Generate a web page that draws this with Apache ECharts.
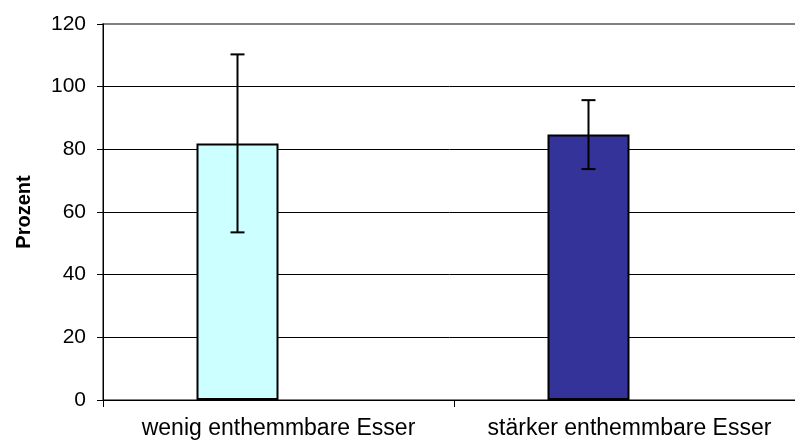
<!DOCTYPE html>
<html>
<head>
<meta charset="utf-8">
<script src="https://cdn.jsdelivr.net/npm/echarts@6/dist/echarts.min.js"></script>
<style>
html,body{margin:0;padding:0;background:#fff;overflow:hidden;}
#chart{width:795px;height:444px;}
</style>
</head>
<body>
<div id="chart"></div>
<script>
const categories = ['wenig enthemmbare Esser', 'stärker enthemmbare Esser'];
const means = [81.9, 84.7];
const errors = [28.4, 11.0];
const barColors = ['#CCFFFF', '#333399'];
const yTicks = [0, 20, 40, 60, 80, 100, 120];

const chart = echarts.init(document.getElementById('chart'), null, {renderer: 'canvas'});
const font = 'Liberation Sans, Arial, sans-serif';

const barData = means.map((v, i) => ({value: v, itemStyle: {color: barColors[i]}}));
const errData = means.map((v, i) => [i, v - errors[i], v + errors[i]]);

chart.setOption({
  animation: false,
  grid: {left: 103, top: 24, bottom: 44, width: 702, containLabel: false, outerBoundsMode: 'none',
    show: true, borderColor: '#808080', borderWidth: 2, backgroundColor: 'transparent'},
  xAxis: {
    type: 'category',
    data: categories,
    boundaryGap: true,
    axisLine: {show: true, lineStyle: {color: '#000', width: 1}},
    axisTick: {show: true, length: 7, lineStyle: {color: '#000'}},
    axisLabel: {color: '#000', fontFamily: font, fontSize: 23, margin: 17, interval: 0}
  },
  yAxis: {
    type: 'value',
    min: 0, max: 120, interval: 20,
    name: 'Prozent',
    nameLocation: 'middle',
    nameGap: 69,
    nameRotate: 90,
    nameTextStyle: {color: '#000', fontFamily: font, fontSize: 20, fontWeight: 'bold'},
    axisLine: {show: true, lineStyle: {color: '#000', width: 1}},
    axisTick: {show: true, length: 6, lineStyle: {color: '#000'}},
    axisLabel: {color: '#000', fontFamily: font, fontSize: 21, margin: 17,
      formatter: v => yTicks.includes(v) ? String(v) : ''},
    splitLine: {show: true, showMaxLine: false, lineStyle: {color: '#000', width: 1}}
  },
  series: [
    {
      type: 'bar',
      data: barData,
      barWidth: 82,
      barGap: '0%',
      itemStyle: {borderColor: '#000', borderWidth: 2},
      z: 2
    },
    {
      type: 'bar',
      data: [null, null],
      barWidth: 82,
      barGap: '0%'
    },
    {
      type: 'custom',
      data: errData,
      z: 5,
      renderItem: function (params, api) {
        const idx = api.value(0);
        const lo = api.coord([idx, api.value(1)]);
        const hi = api.coord([idx, api.value(2)]);
        const x = lo[0] - 41;
        const half = 7;
        const style = {stroke: '#000', lineWidth: 2};
        return {
          type: 'group',
          children: [
            {type: 'line', shape: {x1: x, y1: lo[1], x2: x, y2: hi[1]}, style: style},
            {type: 'line', shape: {x1: x - half, y1: hi[1], x2: x + half, y2: hi[1]}, style: style},
            {type: 'line', shape: {x1: x - half, y1: lo[1], x2: x + half, y2: lo[1]}, style: style}
          ]
        };
      }
    }
  ]
});
</script>
</body>
</html>
